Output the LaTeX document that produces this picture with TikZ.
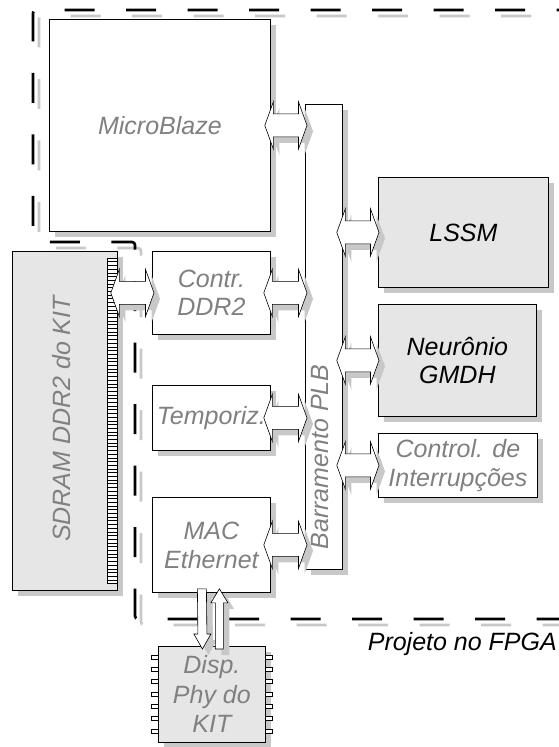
\documentclass[tikz,border=0pt]{standalone}
\usepackage{fontspec}
\setmainfont{Liberation Sans}
\usetikzlibrary{shadows,calc}
\definecolor{txtgray}{RGB}{128,128,128}
\definecolor{boxgray}{RGB}{230,230,230}
\definecolor{shgray}{RGB}{200,200,200}
% horizontal double block arrow between two tip coordinates
\newcommand\hdarrow[2]{%
  \draw[arr] (#1) -- ++(8.5,-23.5) -- ++(0,12) -- ($(#2)+(-8.5,-11.5)$) -- ++(0,-12) -- (#2)
    -- ++(-8.5,23.5) -- ++(0,-12) -- ($(#1)+(8.5,11.5)$) -- ++(0,12) -- cycle;}
% vertical single block arrow: #1 tail centre, #2 tip, #3 signed head length, #4 shaft half width
\newcommand\vsarrow[4]{%
  \draw[arr] ($(#1)+(-#4,0)$) -- ($(#2)+(-#4,#3)$) -- ($(#2)+(-8.5,#3)$) -- (#2)
    -- ($(#2)+(8.5,#3)$) -- ($(#2)+(#4,#3)$) -- ($(#1)+(#4,0)$) -- cycle;}
\tikzset{
  shd/.style={drop shadow={shadow xshift=6pt,shadow yshift=-6pt,fill=shgray,opacity=1}},
  blk/.style={draw=black,line width=0.8pt,fill=white,shd,anchor=north west,inner sep=0pt,
    font=\itshape\fontsize{25}{28.5}\selectfont,text=txtgray,align=center},
  gblk/.style={blk,fill=boxgray},
  arr/.style={draw=black,line width=0.6pt,fill=white,line join=miter,shd},
  pin/.style={draw=black,line width=0.5pt,fill=white},
  lbl/.style={font=\itshape\fontsize{25}{28.5}\selectfont,text=txtgray,inner sep=0pt},
  fence/.style={line width=2.6pt,dash pattern=on 30pt off 31.5pt,dash phase=20.5pt,rounded corners=3pt},
}
\begin{document}
\begin{tikzpicture}[x=1pt,y=-1pt]
\useasboundingbox[fill=white] (0,0) rectangle (559,747);
% FPGA boundary (shadow + dashed line)
\draw[fence,draw=shgray,shift={(6,6)}] (566,10) -- (33,10) -- (33,242) -- (135,242) -- (135,619) -- (566,619);
\draw[fence,draw=black] (566,10) -- (33,10) -- (33,242) -- (135,242) -- (135,619) -- (566,619);
\node[lbl,text=black,anchor=base east] (fpga) at (557,650) {Projeto no FPGA};
% blocks
\node[blk,minimum width=221,minimum height=212] (mb) at (49,19) {MicroBlaze};
\node[blk,minimum width=37,minimum height=465] (bus) at (305,104) {};
\node[lbl,rotate=90] (bustxt) at (320,457) {Barramento PLB};
\node[gblk,minimum width=170,minimum height=110,text=black] (lssm) at (378,177) {LSSM};
\node[gblk,minimum width=158,minimum height=112,text=black] (neur) at (378,304) {Neurônio\\GMDH};
\node[blk,minimum width=159,minimum height=64] (ctrl) at (378,433) {Control. de\\Interrupções};
\node[blk,minimum width=118,minimum height=83] (ddr) at (152,251) {Contr.\\DDR2};
\node[blk,minimum width=118,minimum height=65] (temp) at (152,385) {Temporiz.};
\node[blk,minimum width=118,minimum height=95,font=\itshape\fontsize{25}{29}\selectfont] (mac) at (152,497) {MAC\\Ethernet};
\node[gblk,minimum width=105,minimum height=339] (sdram) at (12,251) {};
\foreach \i in {0,...,87} \draw[pin] (107,258+3.7*\i) rectangle ++(10,3.7);
\node[lbl,rotate=90] (sdramtxt) at (62,419) {SDRAM DDR2 do KIT};
\node[gblk,minimum width=107,minimum height=96,font=\itshape\fontsize{25}{29.5}\selectfont] (disp) at (158,646) {Disp.\\Phy do\\KIT};
\foreach \yy in {657,669.3,681.6,693.9,706.2,718.5,730.8} {
  \draw[pin] (151,\yy-2) rectangle (158,\yy+2);
  \draw[pin] (265,\yy-2) rectangle (272,\yy+2);
}
% connector end points
\path (mb.east) ++(-6,0) coordinate (a1l);
\path (bus.west |- mb.east) ++(2,0) coordinate (a1r);
\path (sdram.east |- ddr.west) ++(-7,0) coordinate (a2l);
\path (ddr.west) ++(2,0) coordinate (a2r);
\path (ddr.east) ++(-7,0) coordinate (a3l);
\path (bus.west |- ddr.east) ++(2,0) coordinate (a3r);
\path (temp.east) ++(-7,0) coordinate (a4l);
\path (bus.west |- temp.east) ++(2,0) coordinate (a4r);
\path (mac.east) ++(-7,0) coordinate (a5l);
\path (bus.west |- mac.east) ++(2,0) coordinate (a5r);
\path (bus.east |- lssm.west) ++(-6,0) coordinate (a6l);
\path (lssm.west) ++(1,0) coordinate (a6r);
\path (bus.east |- neur.west) ++(-6,0) coordinate (a7l);
\path (neur.west) ++(1,0) coordinate (a7r);
\path (bus.east |- ctrl.west) ++(-6,0) coordinate (a8l);
\path (ctrl.west) ++(1,0) coordinate (a8r);
\path (mac.south) ++(-9.5,-4) coordinate (d1t);
\path (disp.north) ++(-9.5,3) coordinate (d1h);
\path (disp.north) ++(7.5,3) coordinate (u1t);
\path (mac.south) ++(8,-4) coordinate (u1h);
% connectors
\hdarrow{a1l}{a1r}
\hdarrow{a2l}{a2r}
\hdarrow{a3l}{a3r}
\hdarrow{a4l}{a4r}
\hdarrow{a5l}{a5r}
\hdarrow{a6l}{a6r}
\hdarrow{a7l}{a7r}
\hdarrow{a8l}{a8r}
\vsarrow{d1t}{d1h}{-15}{4.5}
\vsarrow{u1t}{u1h}{14}{4}
\end{tikzpicture}
\end{document}
